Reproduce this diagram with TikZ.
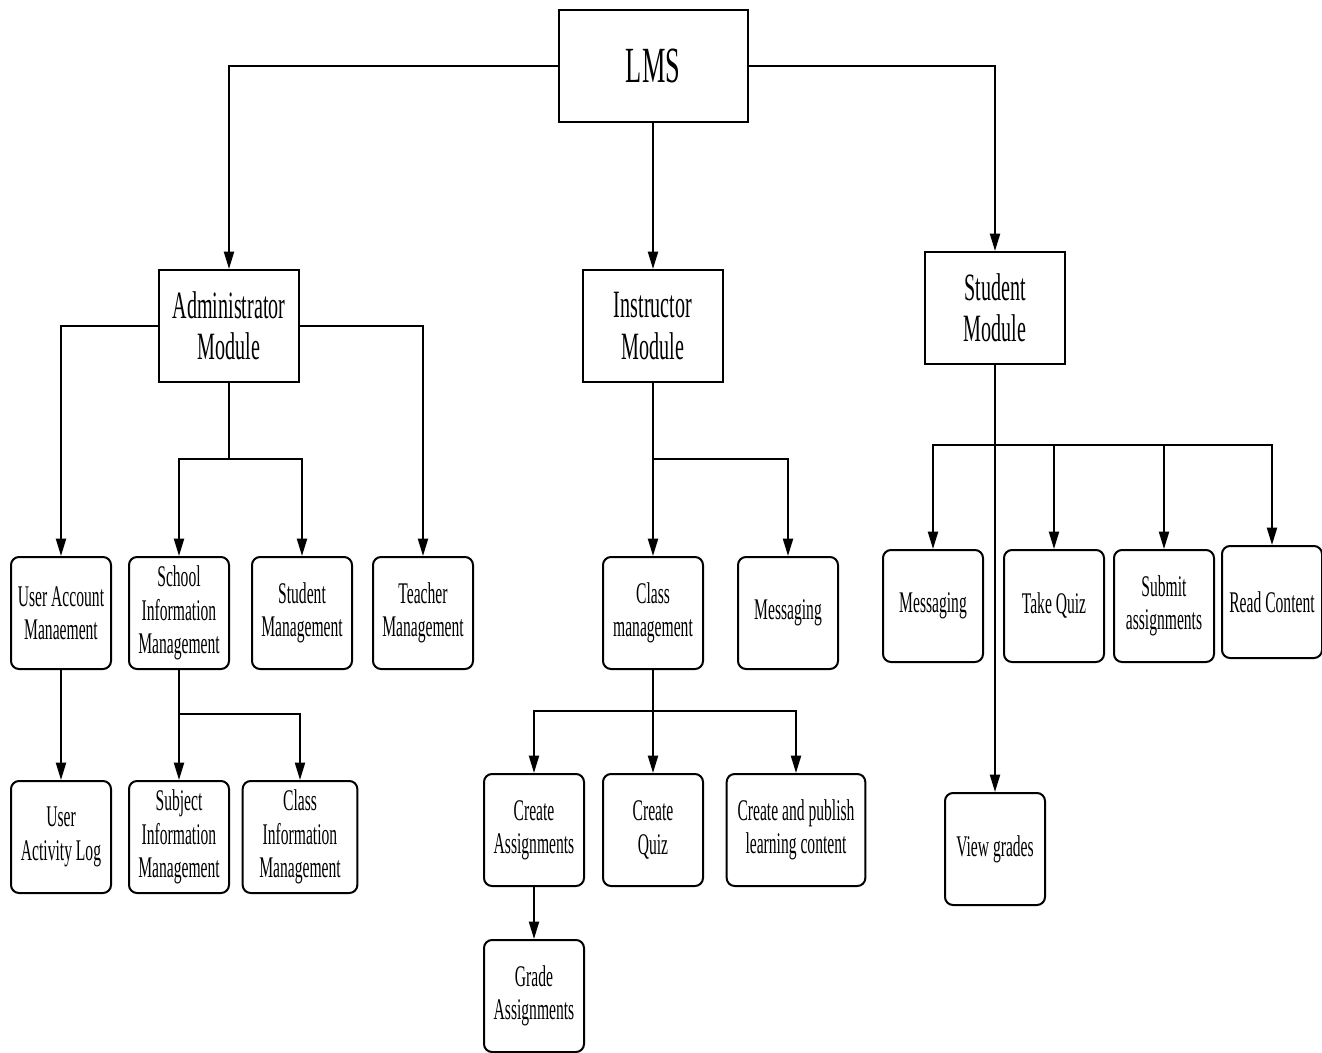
\documentclass[tikz,border=0pt]{standalone}
\usepackage{fontspec}
\setmainfont{Liberation Serif}[FakeStretch=0.52]
\usetikzlibrary{arrows.meta}
\begin{document}
\begin{tikzpicture}[x=0.75pt,y=-0.75pt,
  line width=1.5pt,
  arr/.style={-{Triangle[length=13pt,width=7.5pt]}},
  root/.style={draw, minimum width=141.75pt, minimum height=84pt, inner sep=0pt, font=\fontsize{38}{44}\selectfont},
  module/.style={draw, minimum width=105pt, minimum height=84pt, inner sep=0pt, align=center, font=\fontsize{29}{31}\selectfont},
  leaf/.style={draw, rounded corners=6pt, minimum width=75pt, minimum height=84pt, inner sep=0pt, align=center, font=\fontsize{22.5}{25}\selectfont},
]
\useasboundingbox (0,0) rectangle (1322,1053);
% nodes
\node[root] (lms) at (653,66) {LMS};
\node[module] (admin) at (229,326) {Administrator\\Module};
\node[module] (instr) at (653,326) {Instructor\\Module};
\node[module] (stud) at (995,308) {Student\\Module};
\node[leaf] (uam) at (61,613) {User Account\\Manaement};
\node[leaf] (sim) at (179,613) {School\\Information\\Management};
\node[leaf] (smg) at (302,613) {Student\\Management};
\node[leaf] (tmg) at (423,613) {Teacher\\Management};
\node[leaf] (ual) at (61,837) {User\\Activity Log};
\node[leaf] (subj) at (179,837) {Subject\\Information\\Management};
\node[leaf, minimum width=86pt] (cim) at (300,837) {Class\\Information\\Management};
\node[leaf] (cm) at (653,613) {Class\\management};
\node[leaf] (imsg) at (788,613) {Messaging};
\node[leaf] (ca) at (534,830) {Create\\Assignments};
\node[leaf] (cq) at (653,830) {Create\\Quiz};
\node[leaf, minimum width=104pt] (cp) at (796,830) {Create and publish\\learning content};
\node[leaf] (ga) at (534,996) {Grade\\Assignments};
\node[leaf] (smsg) at (933,606) {Messaging};
\node[leaf] (tq) at (1054,606) {Take Quiz};
\node[leaf] (sa) at (1164,606) {Submit\\assignments};
\node[leaf] (rc) at (1272,602) {Read Content};
\node[leaf] (vg) at (995,849) {View grades};
% junctions
\coordinate (aj) at (229,459);
\coordinate (sj) at (179,714);
\coordinate (ij) at (653,459);
\coordinate (cj) at (653,711);
\coordinate (stj) at (995,445);
% connectors
\draw[arr] (lms.west) -| (admin.north);
\draw[arr] (lms.east) -| (stud.north);
\draw[arr] (lms.south) -- (instr.north);
\draw[arr] (admin.west) -| (uam.north);
\draw[arr] (admin.east) -| (tmg.north);
\draw (admin.south) -- (aj);
\draw[arr] (aj) -| (sim.north);
\draw[arr] (aj) -| (smg.north);
\draw[arr] (uam.south) -- (ual.north);
\draw[arr] (sim.south) -- (subj.north);
\draw[arr] (sj) -| (cim.north);
\draw[arr] (instr.south) -- (cm.north);
\draw[arr] (ij) -| (imsg.north);
\draw[arr] (cm.south) -- (cq.north);
\draw[arr] (cj) -| (ca.north);
\draw[arr] (cj) -| (cp.north);
\draw[arr] (ca.south) -- (ga.north);
\draw[arr] (stud.south) -- (vg.north);
\draw[arr] (stj) -| (smsg.north);
\draw[arr] (stj) -| (tq.north);
\draw[arr] (stj) -| (sa.north);
\draw[arr] (stj) -| (rc.north);
\end{tikzpicture}
\end{document}
